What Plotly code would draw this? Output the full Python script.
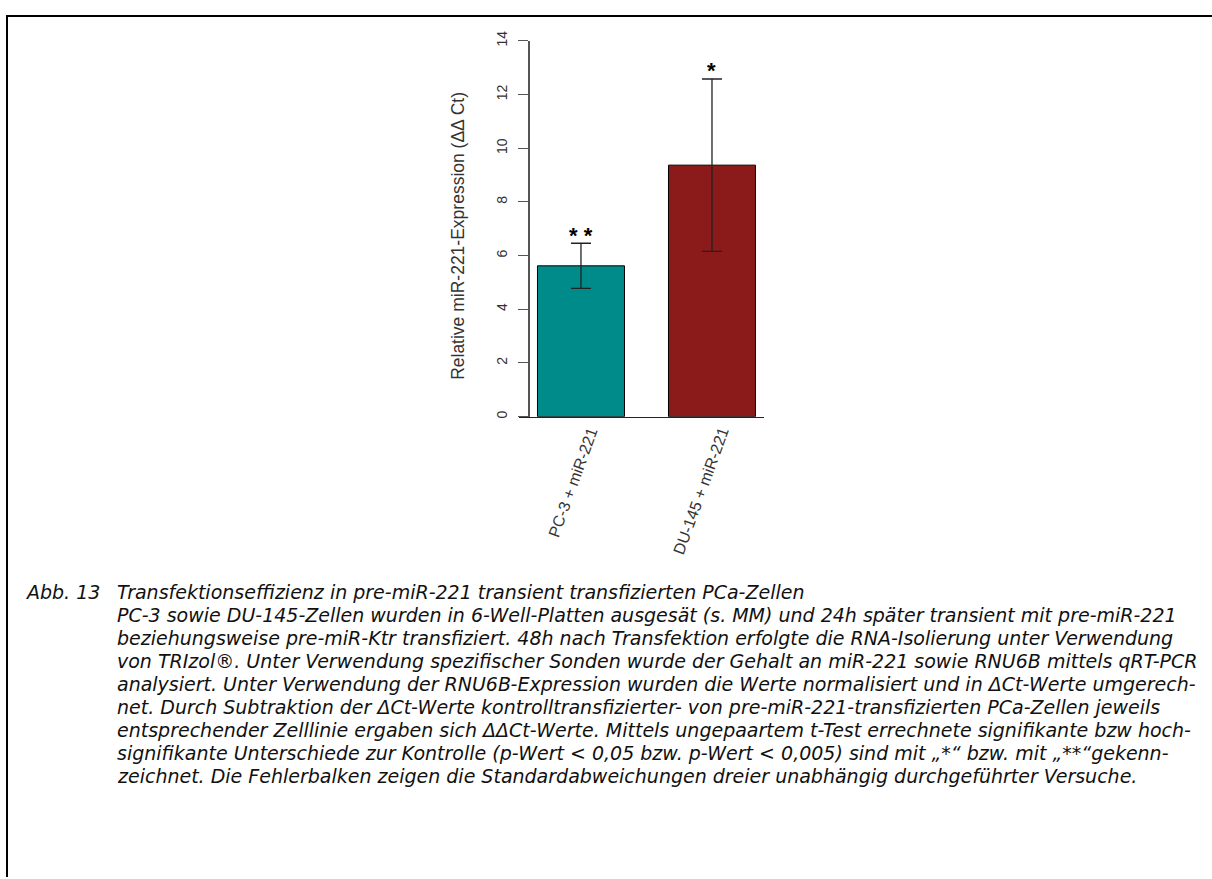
import plotly.graph_objects as go

W, H = 1212, 879

# ---- data ----
categories = ["PC-3 + miR-221", "DU-145 + miR-221"]
means = [5.62, 9.37]
sds = [0.84, 3.21]
sig_labels = ["* *", "*"]
bar_colors = ["#008B8B", "#8B1A1A"]
y_ticks = [0, 2, 4, 6, 8, 10, 12, 14]
y_title = "Relative miR-221-Expression (ΔΔ Ct)"

caption_label = "Abb. 13"
caption_lines = [
    "Transfektionseffizienz in pre-miR-221 transient transfizierten PCa-Zellen",
    "PC-3 sowie DU-145-Zellen wurden in 6-Well-Platten ausgesät (s. MM) und 24h später transient mit pre-miR-221",
    "beziehungsweise pre-miR-Ktr transfiziert. 48h nach Transfektion erfolgte die RNA-Isolierung unter Verwendung",
    "von TRIzol®. Unter Verwendung spezifischer Sonden wurde der Gehalt an miR-221 sowie RNU6B mittels qRT-PCR",
    "analysiert. Unter Verwendung der RNU6B-Expression wurden die Werte normalisiert und in ΔCt-Werte umgerech-",
    "net. Durch Subtraktion der ΔCt-Werte kontrolltransfizierter- von pre-miR-221-transfizierten PCa-Zellen jeweils",
    "entsprechender Zelllinie ergaben sich ΔΔCt-Werte. Mittels ungepaartem t-Test errechnete signifikante bzw hoch-",
    "signifikante Unterschiede zur Kontrolle (p-Wert < 0,05 bzw. p-Wert < 0,005) sind mit „*“ bzw. mit „**“gekenn-",
    "zeichnet. Die Fehlerbalken zeigen die Standardabweichungen dreier unabhängig durchgeführter Versuche.",
]

def px(x):
    return x / W

def py(y):
    return 1 - y / H

x_positions = list(range(len(categories)))

fig = go.Figure()
fig.add_trace(go.Bar(
    x=x_positions, y=means, width=0.664,
    marker=dict(color=bar_colors, line=dict(color="black", width=1)),
    error_y=dict(type="data", array=sds, visible=True, color="#222222", thickness=1.3, width=10),
    showlegend=False, hoverinfo="skip",
))

sans = "Liberation Sans, Arial, sans-serif"
axis_font = dict(family=sans, size=14, color="#333333")

fig.update_layout(
    width=W, height=H,
    margin=dict(l=0, r=0, t=0, b=0),
    paper_bgcolor="white", plot_bgcolor="white",
    xaxis=dict(
        domain=[px(519), px(764)], range=[-0.473, 1.397],
        showline=True, linecolor="#222222", linewidth=1.3,
        showgrid=False, zeroline=False, ticks="",
        tickvals=x_positions, ticktext=["", ""],
    ),
    yaxis=dict(
        domain=[py(412.3), py(31.3)], range=[0, 14],
        anchor="free", position=px(529),
        showline=True, linecolor="#555555", linewidth=1.5,
        showgrid=False, zeroline=False,
        ticks="outside", ticklen=10, tickcolor="#555555", tickwidth=1.3,
        tickvals=y_ticks, tickangle=-90, tickfont=axis_font,
        ticklabelstandoff=6,
    ),
)

annotations = []
# x category labels (rotated)
for xi, cat in zip(x_positions, categories):
    annotations.append(dict(
        x=xi, y=0, xref="x", yref="y", text=cat, textangle=-70, showarrow=False,
        font=dict(family=sans, size=16, color="#333333"),
        xanchor="right", yanchor="top", xshift=22, yshift=-6,
    ))
# y-axis title
annotations.append(dict(
    x=px(458), y=py(229), xref="paper", yref="paper", text=y_title,
    textangle=-90, showarrow=False, font=dict(family=sans, size=17.5, color="#333333"),
    xanchor="center", yanchor="middle",
))
# significance stars
for xi, m, s, lab in zip(x_positions, means, sds, sig_labels):
    annotations.append(dict(
        x=xi, y=m + s, xref="x", yref="y", text="<b>" + lab + "</b>", showarrow=False,
        font=dict(family=sans, size=22, color="black"),
        xanchor="center", yanchor="middle", yshift=8,
    ))

# caption: one annotation per line, pitch 23.3 px
line_h = 23.3
cap_font = dict(family="DejaVu Sans, Liberation Sans, sans-serif", size=19.0, color="#111111")
first_line_y = 590
annotations.append(dict(
    x=px(23), y=py(first_line_y), xref="paper", yref="paper",
    text=f"<i>{caption_label}</i>",
    showarrow=False, font=cap_font, xanchor="left", yanchor="middle",
))
for i, ln in enumerate(caption_lines):
    annotations.append(dict(
        x=px(115), y=py(first_line_y + i * line_h), xref="paper", yref="paper",
        text=f"<i>{ln}</i>", showarrow=False, font=cap_font,
        xanchor="left", yanchor="middle", align="left",
    ))
fig.update_layout(annotations=annotations)

# frame lines (left and top)
fig.add_shape(type="line", xref="paper", yref="paper", x0=px(7), x1=px(7), y0=0, y1=py(6),
              line=dict(color="black", width=2))
fig.add_shape(type="line", xref="paper", yref="paper", x0=px(6), x1=1, y0=py(6), y1=py(6),
              line=dict(color="black", width=2))

fig.write_html(
    "out.html",
    config={"displayModeBar": False},
    post_script="document.body.style.margin='0';document.body.style.overflow='hidden';",
)
